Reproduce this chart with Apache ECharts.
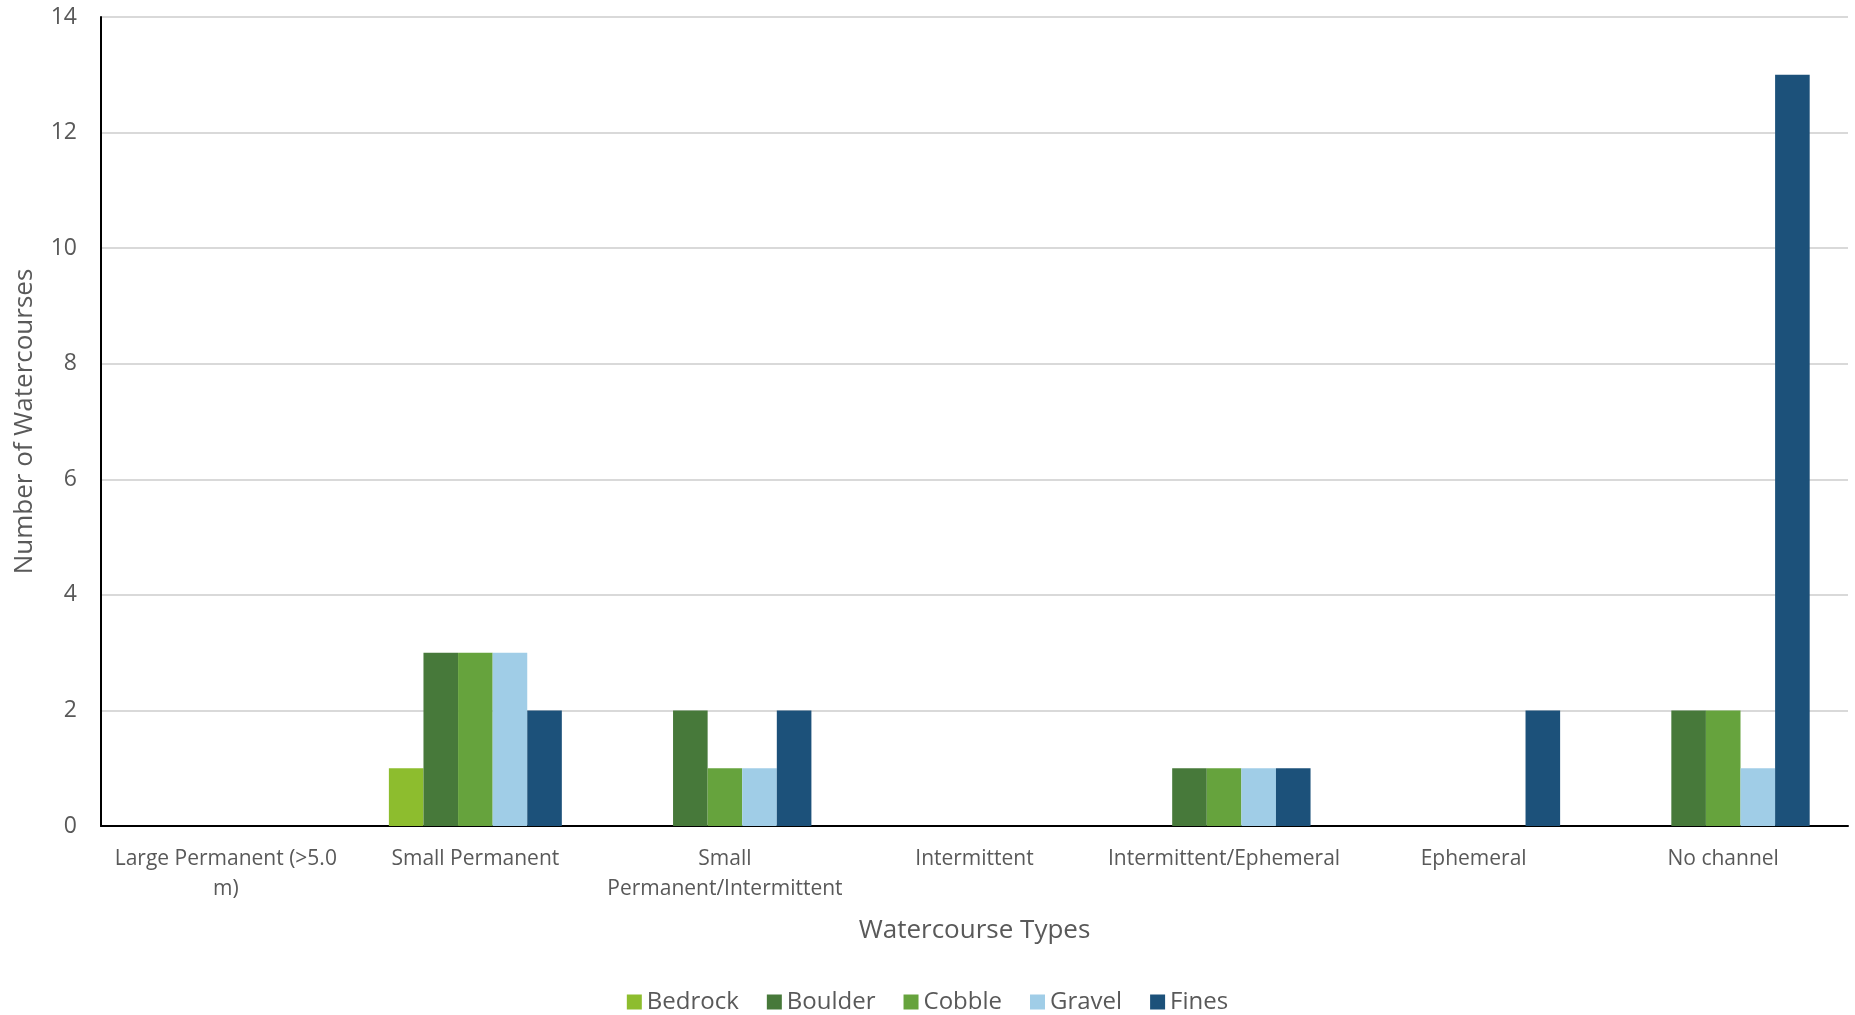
<!DOCTYPE html>
<html>
<head>
<meta charset="utf-8">
<script src="https://cdn.jsdelivr.net/npm/echarts@6/dist/echarts.min.js"></script>
<style>
  html, body { margin: 0; padding: 0; background: #fff; }
  #main { width: 1855px; height: 1015px; }
</style>
</head>
<body>
<div id="main"></div>
<script>
var chartDom = document.getElementById('main');
var myChart = echarts.init(chartDom);

var categories = [
  'Large Permanent (>5.0 m)',
  'Small Permanent',
  'Small Permanent/Intermittent',
  'Intermittent',
  'Intermittent/Ephemeral',
  'Ephemeral',
  'No channel'
];
// how the tick labels wrap in the reference
var tickLabels = [
  'Large Permanent (>5.0\nm)',
  'Small Permanent',
  'Small\nPermanent/Intermittent',
  'Intermittent',
  'Intermittent/Ephemeral',
  'Ephemeral',
  'No channel'
];

var bedrock = [0, 1, 0, 0, 0, 0, 0];
var boulder = [0, 3, 2, 0, 1, 0, 2];
var cobble  = [0, 3, 1, 0, 1, 0, 2];
var gravel  = [0, 3, 1, 0, 1, 0, 1];
var fines   = [0, 2, 2, 0, 1, 2, 13];

var seriesNames = ['Bedrock', 'Boulder', 'Cobble', 'Gravel', 'Fines'];
var seriesColors = ['#8DBD2E', '#47793A', '#66A33D', '#A0CDE7', '#1C517A'];
var seriesValues = [bedrock, boulder, cobble, gravel, fines];

var font = '"Open Sans", "Noto Sans", sans-serif';

var series = seriesNames.map(function (name, i) {
  return {
    name: name,
    type: 'bar',
    data: seriesValues[i],
    barGap: '0%',
    barCategoryGap: '30.7%',
    itemStyle: {
      color: seriesColors[i]
    }
  };
});

var option = {
  animation: false,
  textStyle: { fontFamily: font },
  grid: {
    left: 101,
    right: 7,
    top: 17,
    bottom: 189,
    outerBoundsMode: 'none'
  },
  legend: {
    top: 985,
    left: 'center',
    icon: 'rect',
    itemWidth: 15,
    itemHeight: 15,
    itemGap: 28,
    textStyle: { fontSize: 24, color: '#595959', fontFamily: font },
    data: seriesNames
  },
  xAxis: {
    type: 'category',
    data: categories,
    name: 'Watercourse Types',
    nameLocation: 'middle',
    nameGap: 92,
    nameTextStyle: { fontSize: 26, color: '#595959', fontFamily: font },
    axisLine: { lineStyle: { color: '#000', width: 2 } },
    axisTick: { show: false },
    axisLabel: {
      fontSize: 21,
      color: '#595959',
      margin: 18,
      lineHeight: 30,
      interval: 0,
      formatter: function (v, idx) { return tickLabels[idx]; }
    }
  },
  yAxis: {
    type: 'value',
    min: 0,
    max: 14,
    interval: 2,
    name: 'Number of Watercourses',
    nameLocation: 'middle',
    nameGap: 63,
    nameTextStyle: { fontSize: 26, color: '#595959', fontFamily: font },
    axisLine: { show: true, lineStyle: { color: '#000', width: 2 } },
    axisTick: { show: false },
    axisLabel: { fontSize: 23, color: '#595959', margin: 24 },
    splitLine: { lineStyle: { color: '#d9d9d9', width: 2 } }
  },
  series: series
};

myChart.setOption(option);
window.addEventListener('resize', myChart.resize);
</script>
</body>
</html>
